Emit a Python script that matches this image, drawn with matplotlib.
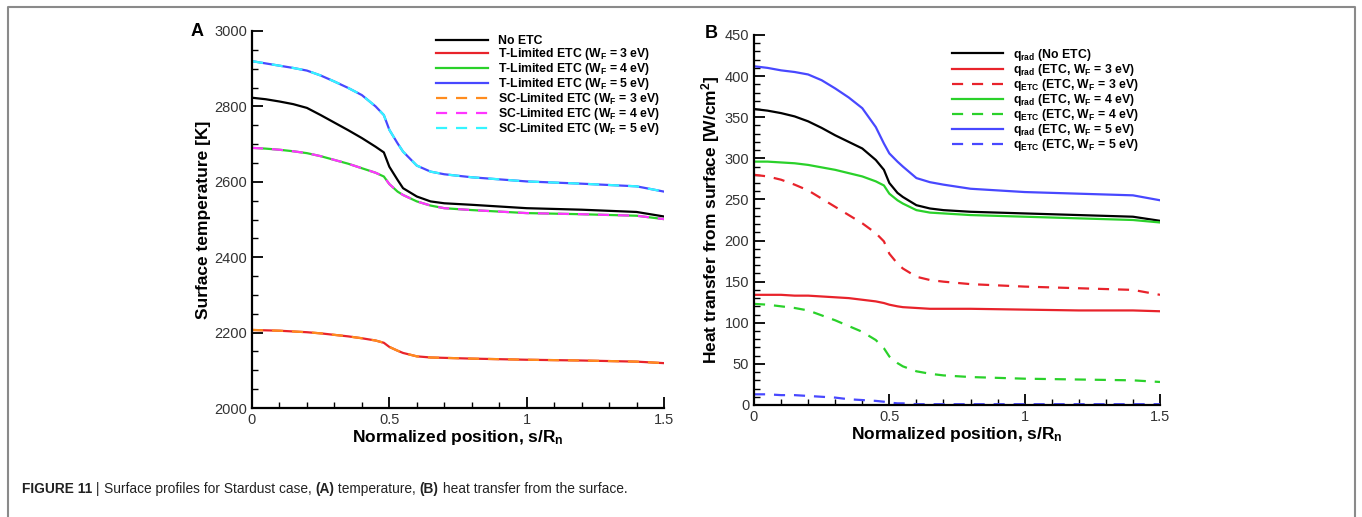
import matplotlib
matplotlib.use("Agg")
import matplotlib.pyplot as plt
from matplotlib.lines import Line2D
from matplotlib.ticker import MultipleLocator

plt.rcParams['font.family'] = ['Liberation Sans', 'DejaVu Sans']
plt.rcParams['mathtext.fontset'] = 'custom'
plt.rcParams['mathtext.rm'] = 'Liberation Sans:bold'
plt.rcParams['mathtext.it'] = 'Liberation Sans:bold'
plt.rcParams['mathtext.bf'] = 'Liberation Sans:bold'
plt.rcParams['mathtext.default'] = 'rm'

# --- panel A: surface temperature [K]
pos_a = [0, 0.05, 0.1, 0.15, 0.2, 0.25, 0.3, 0.35, 0.4, 0.45, 0.48, 0.5, 0.53, 0.55,
         0.6, 0.65, 0.7, 0.8, 1.0, 1.2, 1.4, 1.5]
temp_no_etc = [2823, 2819, 2813, 2806, 2796, 2777, 2757, 2737, 2716, 2693, 2678, 2640, 2605, 2583,
               2561, 2548, 2543, 2539, 2530, 2526, 2520, 2508]
temp_w3 = [2207, 2206, 2205, 2203, 2201, 2198, 2194, 2190, 2185, 2179, 2173, 2162, 2152, 2146,
           2137, 2134, 2133, 2131, 2128, 2126, 2123, 2119]
temp_w4 = [2690, 2688, 2685, 2681, 2676, 2668, 2658, 2648, 2636, 2624, 2614, 2594, 2574, 2565,
           2548, 2537, 2530, 2525, 2517, 2514, 2510, 2501]
temp_w5 = [2920, 2914, 2908, 2902, 2895, 2882, 2866, 2849, 2830, 2800, 2777, 2738, 2702, 2680,
           2643, 2627, 2620, 2612, 2601, 2595, 2588, 2574]

# --- panel B: heat transfer from surface [W/cm2]
pos_b = [0, 0.05, 0.1, 0.15, 0.2, 0.25, 0.3, 0.35, 0.4, 0.45, 0.48, 0.5, 0.53, 0.55,
         0.6, 0.65, 0.7, 0.8, 1.0, 1.2, 1.4, 1.5]
qrad_no_etc = [360, 358, 355, 351, 345, 337, 328, 320, 312, 298, 286, 270, 258, 253,
               243, 239, 237, 235, 233, 231, 229, 224]
qrad_w3 = [134, 134, 134, 133, 133, 132, 131, 130, 128, 126, 124, 122, 120, 119,
           118, 117, 117, 117, 116, 115, 115, 114]
qetc_w3 = [280, 278, 274, 268, 261, 251, 241, 231, 221, 209, 199, 184, 172, 166,
           156, 152, 150, 147, 144, 142, 140, 134]
qrad_w4 = [296, 296, 295, 294, 292, 289, 286, 282, 278, 272, 267, 257, 249, 245,
           237, 234, 233, 231, 229, 227, 225, 222]
qetc_w4 = [123, 122, 120, 118, 115, 109, 103, 96, 89, 79, 69, 59, 51, 47,
           41, 38, 36, 34, 32, 31, 30, 28]
qrad_w5 = [412, 410, 407, 405, 402, 395, 385, 374, 361, 338, 318, 306, 296, 290,
           276, 271, 268, 263, 259, 257, 255, 249]
qetc_w5 = [13, 13, 12, 12, 11, 10, 9, 7, 6, 5, 4, 3, 2, 2,
           1, 1, 1, 1, 1, 1, 1, 1]

caption_parts = [('FIGURE 11', 'bold'), (' | ', 'normal'), ('Surface profiles for Stardust case, ', 'normal'),
                 ('(A)', 'bold'), (' temperature, ', 'normal'), ('(B)', 'bold'),
                 (' heat transfer from the surface.', 'normal')]

RED = '#e8232b'
GREEN = '#2ad12a'
BLUE = '#4848ff'
ORANGE = '#ff8c1e'
MAGENTA = '#ff35ff'
CYAN = '#35f5ff'
DASH = (0, (5, 4))

W, H = 1362, 517
fig = plt.figure(figsize=(W / 100, H / 100), dpi=100)
axA = fig.add_axes([252 / W, 1 - 408 / H, (664 - 252) / W, (408 - 31) / H])
axB = fig.add_axes([754 / W, 1 - 405 / H, (1160 - 754) / W, (405 - 35) / H])

leg_kw = dict(frameon=False, prop={'weight': 'bold', 'size': 8.8}, handlelength=4.2,
              handletextpad=0.8, labelspacing=-0.08, borderaxespad=0.2)


def style_axes(ax):
    for s in ['top', 'right']:
        ax.spines[s].set_visible(False)
    for s in ['left', 'bottom']:
        ax.spines[s].set_linewidth(1.6)
    ax.tick_params(which='both', direction='in', colors='black', labelcolor='#333333',
                   labelsize=10.5, width=1.0)
    ax.tick_params(which='major', length=8, width=1.3)
    ax.tick_params(which='minor', length=4)
    ax.set_xlim(0, 1.5)
    ax.xaxis.set_minor_locator(MultipleLocator(0.1))
    ax.set_xticks([0, 0.5, 1, 1.5])
    ax.set_xticklabels(['0', '0.5', '1', '1.5'])
    ax.set_xlabel('Normalized position, s/R$_n$', fontsize=12.5, fontweight='bold', labelpad=1)


# panel A
axA.plot(pos_a, temp_no_etc, color='black', lw=1.6, label='No ETC')
axA.plot(pos_a, temp_w3, color=RED, lw=1.6, label='T-Limited ETC (W$_F$ = 3 eV)')
axA.plot(pos_a, temp_w4, color=GREEN, lw=1.6, label='T-Limited ETC (W$_F$ = 4 eV)')
axA.plot(pos_a, temp_w5, color=BLUE, lw=1.6, label='T-Limited ETC (W$_F$ = 5 eV)')
axA.plot(pos_a, temp_w3, color=ORANGE, lw=1.6, ls=DASH, label='SC-Limited ETC (W$_F$ = 3 eV)')
axA.plot(pos_a, temp_w4, color=MAGENTA, lw=1.6, ls=DASH, label='SC-Limited ETC (W$_F$ = 4 eV)')
axA.plot(pos_a, temp_w5, color=CYAN, lw=1.6, ls=DASH, label='SC-Limited ETC (W$_F$ = 5 eV)')
style_axes(axA)
axA.set_ylim(2000, 3000)
axA.yaxis.set_major_locator(MultipleLocator(200))
axA.yaxis.set_minor_locator(MultipleLocator(50))
axA.set_ylabel('Surface temperature [K]', fontsize=12.5, fontweight='bold', labelpad=2)
axA.legend(loc='upper left', bbox_to_anchor=(0.43, 1.008), **leg_kw)
fig.text(197 / W, 1 - 31 / H, 'A', fontsize=13, fontweight='bold', ha='center', va='center')

# panel B
axB.plot(pos_b, qrad_no_etc, color='black', lw=1.6, label='q$_{rad}$ (No ETC)')
axB.plot(pos_b, qrad_w3, color=RED, lw=1.6, label='q$_{rad}$ (ETC, W$_F$ = 3 eV)')
axB.plot(pos_b, qetc_w3, color=RED, lw=1.6, ls=DASH, label='q$_{ETC}$ (ETC, W$_F$ = 3 eV)')
axB.plot(pos_b, qrad_w4, color=GREEN, lw=1.6, label='q$_{rad}$ (ETC, W$_F$ = 4 eV)')
axB.plot(pos_b, qetc_w4, color=GREEN, lw=1.6, ls=DASH, label='q$_{ETC}$ (ETC, W$_F$ = 4 eV)')
axB.plot(pos_b, qrad_w5, color=BLUE, lw=1.6, label='q$_{rad}$ (ETC, W$_F$ = 5 eV)')
axB.plot(pos_b, qetc_w5, color=BLUE, lw=1.6, ls=DASH, label='q$_{ETC}$ (ETC, W$_F$ = 5 eV)')
style_axes(axB)
axB.set_ylim(0, 450)
axB.yaxis.set_major_locator(MultipleLocator(50))
axB.yaxis.set_minor_locator(MultipleLocator(10))
axB.set_ylabel('Heat transfer from surface [W/cm$^2$]', fontsize=12.5, fontweight='bold', labelpad=2)
axB.legend(loc='upper left', bbox_to_anchor=(0.47, 0.988), **leg_kw)
fig.text(711 / W, 1 - 33 / H, 'B', fontsize=13, fontweight='bold', ha='center', va='center')

# frame around the figure (open at the bottom)
fx = [8 / W, 8 / W, 1355 / W, 1355 / W]
fy = [0, 1 - 7 / H, 1 - 7 / H, 0]
fig.add_artist(Line2D(fx, fy, color='#8a8a8a', lw=1.5, transform=fig.transFigure))

# caption: pieces on one baseline, each starting where the previous one ends
renderer = fig.canvas.get_renderer()
x_px = 22
y_cap = 1 - 493 / H
for txt, wt in caption_parts:
    t = fig.text(x_px / W, y_cap, txt, fontweight=wt, fontsize=9.9, color='#222222',
                 va='baseline', ha='left')
    x_px = t.get_window_extent(renderer).x1

fig.savefig('out.png', dpi=100)
